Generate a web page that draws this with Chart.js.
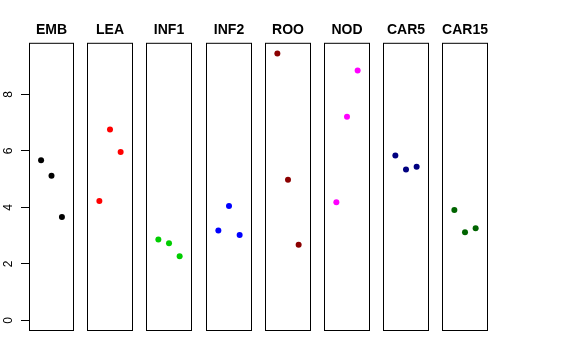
<!DOCTYPE html>
<html>
<head>
<meta charset="utf-8">
<script src="https://cdn.jsdelivr.net/npm/chart.js@4/dist/chart.umd.min.js"></script>
<style>
  html, body { margin: 0; padding: 0; background: #fff; }
  #wrap { position: relative; width: 576px; height: 360px; overflow: hidden; background: #fff; }
  .panel { position: absolute; top: 0; height: 331px; }
</style>
</head>
<body>
<div id="wrap"></div>
<script>
// ---- data ----
const panels = ['EMB', 'LEA', 'INF1', 'INF2', 'ROO', 'NOD', 'CAR5', 'CAR15'];
const replicate = [1, 2, 3];
const EMB   = [5.67, 5.12, 3.66];
const LEA   = [4.23, 6.76, 5.96];
const INF1  = [2.86, 2.73, 2.27];
const INF2  = [3.18, 4.05, 3.02];
const ROO   = [9.45, 4.98, 2.68];
const NOD   = [4.18, 7.21, 8.85];
const CAR5  = [5.84, 5.34, 5.44];
const CAR15 = [3.91, 3.12, 3.26];
const yTicks = [0, 2, 4, 6, 8];
const seriesValues = [EMB, LEA, INF1, INF2, ROO, NOD, CAR5, CAR15];

// ---- styles ----
const pointColors = ['#000000', '#FF0000', '#00CD00', '#0000FF', '#8B0000', '#FF00FF', '#000080', '#006400'];
const panelLefts = [0, 87, 146, 206, 265, 324, 383, 442];
const panelWidths = [74, 46, 46, 46, 46, 46, 46, 46];

const boxPlugin = {
  id: 'panelBox',
  afterDraw(chart) {
    const a = chart.chartArea, ctx = chart.ctx;
    ctx.save();
    ctx.strokeStyle = '#000';
    ctx.lineWidth = 1;
    ctx.strokeRect(a.left + 0.5, a.top + 0.5, a.right - a.left - 1, a.bottom - a.top - 1);
    ctx.restore();
  }
};

const wrap = document.getElementById('wrap');
panels.forEach((name, i) => {
  const div = document.createElement('div');
  div.className = 'panel';
  div.style.left = panelLefts[i] + 'px';
  div.style.width = panelWidths[i] + 'px';
  const cv = document.createElement('canvas');
  div.appendChild(cv);
  wrap.appendChild(div);

  const first = i === 0;
  new Chart(cv, {
    type: 'scatter',
    data: {
      datasets: [{
        label: name,
        data: replicate.map((r, j) => ({ x: r, y: seriesValues[i][j] })),
        backgroundColor: pointColors[i],
        borderColor: pointColors[i],
        borderWidth: 0,
        pointRadius: 3,
        pointHoverRadius: 3
      }]
    },
    options: {
      responsive: true,
      maintainAspectRatio: false,
      animation: false,
      devicePixelRatio: 1,
      layout: { padding: 0, autoPadding: false },
      plugins: {
        legend: { display: false },
        tooltip: { enabled: false },
        title: {
          display: true,
          fullSize: false,
          text: name,
          color: '#000',
          font: { family: "'Liberation Sans', Arial, sans-serif", size: 14, weight: 'bold', lineHeight: 1.2 },
          padding: { top: 22, bottom: 4 }
        }
      },
      scales: {
        x: { type: 'linear', min: -0.16, max: 4.16, display: false },
        y: {
          type: 'linear',
          min: -0.378,
          max: 9.828,
          display: first,
          position: 'left',
          border: { display: false },
          grid: { drawOnChartArea: false, drawTicks: true, tickLength: 8, color: '#000', lineWidth: 1 },
          afterBuildTicks: (scale) => { scale.ticks = yTicks.map(v => ({ value: v })); },
          afterFit: (scale) => {
            if (first) {
              scale.width = 29;
              scale.paddingTop = 0;
              scale.paddingBottom = 0;
            }
          },
          ticks: {
            color: '#000',
            font: { family: "'Liberation Sans', Arial, sans-serif", size: 12 },
            minRotation: 90,
            maxRotation: 90,
            crossAlign: 'center',
            padding: 9,
            callback: (v) => String(v)
          }
        }
      }
    },
    plugins: [boxPlugin]
  });
});
</script>
</body>
</html>
